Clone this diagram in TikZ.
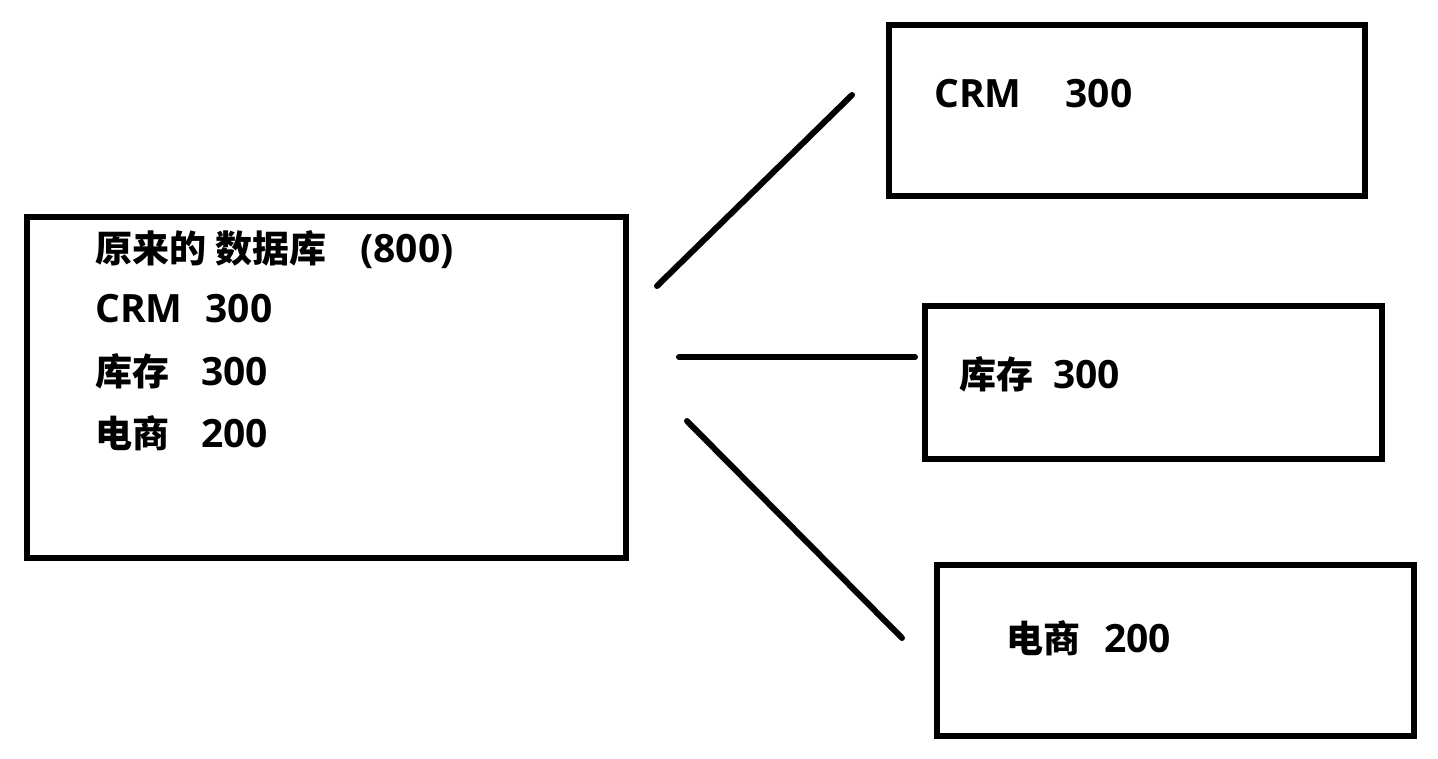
\documentclass[tikz,border=0pt]{standalone}
\usepackage{fontspec}
\setmainfont{Open Sans}
\newfontfamily\cjk{Noto Sans CJK SC}[Scale=0.95]
\begin{document}
\begin{tikzpicture}[x=1pt,y=-1pt,
  box/.style={draw=black, line width=6pt, inner sep=0pt},
  lbl/.style={anchor=base west, inner sep=0pt, font=\fontsize{39}{46}\selectfont\bfseries},
  conn/.style={draw=black, line width=6pt, line cap=round}]
\useasboundingbox[fill=white] (0,0) rectangle (1438,758);
% boxes
\node[box, minimum width=599pt, minimum height=341pt] (main) at (326.5,387.5) {};
\node[box, minimum width=476pt, minimum height=171pt] (crm) at (1127,110.5) {};
\node[box, minimum width=457pt, minimum height=153pt] (kc) at (1153.5,382.5) {};
\node[box, minimum width=477pt, minimum height=171pt] (ds) at (1175.5,650.5) {};
% texts
\node[lbl] (t1) at (95,262) {{\cjk 原来的}\hspace{9pt}{\cjk 数据库}\hspace{34pt}(800)};
\node[lbl] (t2) at (95,322) {CRM\hspace{23pt}300};
\node[lbl] (t3) at (95,385) {{\cjk 库存}\hspace{32pt}300};
\node[lbl] (t4) at (95,447) {{\cjk 电商}\hspace{32pt}200};
\node[lbl] (crmt) at (934,107) {CRM\hspace{44pt}300};
\node[lbl] (kct) at (959,388) {{\cjk 库存}\hspace{20pt}300};
\node[lbl] (dst) at (1006,652) {{\cjk 电商}\hspace{24pt}200};
% connectors
\coordinate (l1a) at (657,286);
\coordinate (l1b) at (852,95);
\coordinate (l2a) at (679,357);
\coordinate (l2b) at (915,357);
\coordinate (l3a) at (687,421);
\coordinate (l3b) at (902,638);
\draw[conn] (l1a) -- (l1b);
\draw[conn] (l2a) -- (l2b);
\draw[conn] (l3a) -- (l3b);
\end{tikzpicture}
\end{document}
